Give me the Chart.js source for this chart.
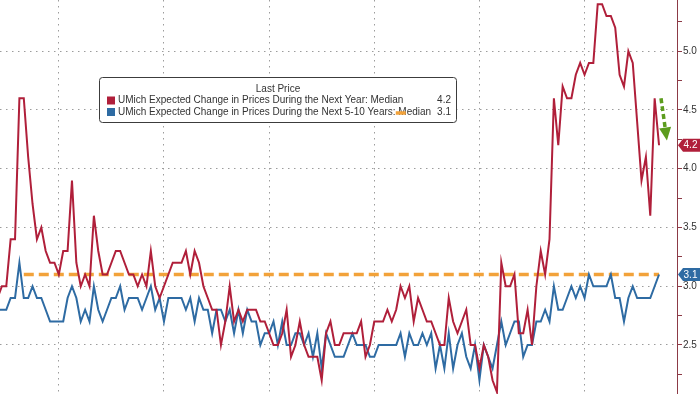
<!DOCTYPE html>
<html>
<head>
<meta charset="utf-8">
<script src="https://cdn.jsdelivr.net/npm/chart.js@4.4.0/dist/chart.umd.min.js"></script>
<style>
  html, body { margin: 0; padding: 0; background: #ffffff; }
  #wrap { width: 700px; height: 394px; }
</style>
</head>
<body>
<div id="wrap"><canvas id="inflationChart" width="700" height="394"></canvas></div>
<script>
// monthly readings, Oct 2010 .. May 2023
const startYear = 2010;
const startMonth = 10;

const nextYearMedian = [
  2.9, 3.0, 3.0, 3.4, 3.4, 4.6, 4.6, 4.1, 3.7, 3.4,
  3.5, 3.3, 3.2, 3.2, 3.1, 3.3, 3.3, 3.9, 3.2, 3.0,
  3.1, 3.0, 3.6, 3.3, 3.1, 3.1, 3.2, 3.3, 3.3, 3.2,
  3.1, 3.1, 3.0, 3.1, 3.0, 3.3, 3.0, 2.9, 3.0, 3.1,
  3.2, 3.2, 3.2, 3.3, 3.1, 3.3, 3.2, 3.0, 2.9, 2.8,
  2.8, 2.5, 2.7, 3.0, 2.7, 2.8, 2.7, 2.8, 2.8, 2.8,
  2.7, 2.7, 2.6, 2.5, 2.5, 2.6, 2.8, 2.4, 2.5, 2.7,
  2.5, 2.4, 2.4, 2.4, 2.2, 2.6, 2.7, 2.5, 2.5, 2.6,
  2.6, 2.6, 2.6, 2.7, 2.4, 2.5, 2.7, 2.7, 2.7, 2.8,
  2.7, 2.8, 3.0, 2.9, 3.0, 2.7, 2.9, 2.8, 2.7, 2.7,
  2.6, 2.5, 2.5, 2.9, 2.7, 2.6, 2.7, 2.8, 2.5, 2.5,
  2.3, 2.5, 2.4, 2.2, 2.1, 3.2, 3.0, 3.0, 3.1, 2.6,
  2.6, 2.8, 2.5, 3.0, 3.3, 3.1, 3.4, 4.6, 4.2, 4.7,
  4.6, 4.6, 4.8, 4.9, 4.8, 4.9, 4.9, 5.4, 5.4, 5.3,
  5.3, 5.2, 4.8, 4.7, 5.0, 4.9, 4.4, 3.9, 4.1, 3.6,
  4.6, 4.2,
];

const fiveToTenYearMedian = [
  2.8, 2.8, 2.8, 2.9, 2.9, 3.2, 2.9, 2.9, 3.0, 2.9,
  2.9, 2.8, 2.7, 2.7, 2.7, 2.7, 2.9, 3.0, 2.9, 2.7,
  2.8, 2.7, 3.0, 2.8, 2.7, 2.8, 2.9, 2.9, 3.0, 2.8,
  2.9, 2.9, 2.9, 2.8, 2.9, 3.0, 2.8, 2.9, 2.7, 2.9,
  2.9, 2.9, 2.9, 2.8, 2.9, 2.7, 2.9, 2.8, 2.8, 2.6,
  2.8, 2.8, 2.7, 2.8, 2.6, 2.8, 2.6, 2.8, 2.7, 2.7,
  2.5, 2.6, 2.6, 2.7, 2.5, 2.7, 2.5, 2.5, 2.6, 2.6,
  2.5, 2.6, 2.4, 2.6, 2.3, 2.6, 2.5, 2.4, 2.4, 2.4,
  2.5, 2.6, 2.5, 2.5, 2.5, 2.4, 2.4, 2.5, 2.5, 2.5,
  2.5, 2.5, 2.6, 2.4, 2.6, 2.5, 2.5, 2.6, 2.5, 2.6,
  2.3, 2.5, 2.3, 2.6, 2.3, 2.5, 2.6, 2.4, 2.3, 2.5,
  2.2, 2.5, 2.4, 2.3, 2.5, 2.7, 2.5, 2.6, 2.7, 2.7,
  2.4, 2.5, 2.5, 2.7, 2.7, 2.8, 2.7, 3.0, 2.8, 2.8,
  2.9, 3.0, 2.9, 3.0, 2.9, 3.1, 3.0, 3.0, 3.0, 3.0,
  3.1, 2.9, 2.9, 2.7, 2.9, 3.0, 2.9, 2.9, 2.9, 2.9,
  3.0, 3.1,
];

const medianLevel = 3.1;
const medianStartIndex = 6;

const yTickValues = [2.25, 2.5, 2.75, 3.0, 3.25, 3.5, 3.75, 4.0, 4.25, 4.5, 4.75, 5.0, 5.25];
const gridYears = [2012, 2014, 2016, 2018, 2020, 2022];

const legendTitle = "Last Price";
const seriesNames = [
  "UMich Expected Change in Prices During the Next Year: Median",
  "UMich Expected Change in Prices During the Next 5-10 Years: Median",
];

const RED = "#b01f3a";
const BLUE = "#2e6ba3";
const ORANGE = "#f2a23a";
const GREEN = "#5c9c1e";
const AXIS = "#8c3a46";
const GRID = "#9c9c9c";
const FONT = "'Liberation Sans', Arial, sans-serif";

const lastIndex = nextYearMedian.length - 1;

function toPoints(values) {
  return values.map((v, i) => ({ x: i, y: v }));
}

function medianPoints() {
  return nextYearMedian.map((v, i) => ({
    x: i,
    y: i >= medianStartIndex ? medianLevel : null,
  }));
}

function yearStartIndex(year) {
  // end of December of the previous year
  return (year - 1 - startYear) * 12 + (12 - startMonth);
}

function isHalf(value) {
  return Math.abs(value * 2 - Math.round(value * 2)) < 1e-6;
}

function drawLegendBox(ctx) {
  ctx.save();

  ctx.beginPath();
  ctx.roundRect(99.5, 77.5, 357, 45, 3);
  ctx.fillStyle = "#ffffff";
  ctx.fill();
  ctx.strokeStyle = "#3c3c3c";
  ctx.lineWidth = 1;
  ctx.stroke();

  ctx.font = "10px " + FONT;
  ctx.fillStyle = "#333333";
  ctx.textBaseline = "middle";

  ctx.textAlign = "center";
  ctx.fillText(legendTitle, 278, 89);

  const rows = [
    { color: RED, name: seriesNames[0], value: nextYearMedian[lastIndex], y: 100.5 },
    { color: BLUE, name: seriesNames[1], value: fiveToTenYearMedian[lastIndex], y: 112 },
  ];

  rows.forEach((row) => {
    ctx.fillStyle = row.color;
    ctx.fillRect(107, row.y - 4, 8, 8);

    ctx.fillStyle = "#333333";
    ctx.textAlign = "left";
    ctx.fillText(row.name, 118, row.y);

    ctx.textAlign = "right";
    ctx.fillText(row.value.toFixed(1), 451, row.y);
  });

  // the median line's marker lands on top of the second row
  const prefix = seriesNames[1].split(":")[0];
  const markerX = 118 + ctx.measureText(prefix).width + 3;
  ctx.strokeStyle = ORANGE;
  ctx.lineWidth = 3.5;
  ctx.beginPath();
  ctx.moveTo(markerX, 113);
  ctx.lineTo(markerX + 10, 113);
  ctx.stroke();

  ctx.restore();
}

function drawTag(ctx, chart, value, color) {
  const y = chart.scales.y.getPixelForValue(value);
  const left = chart.chartArea.right;
  const right = chart.width;

  ctx.save();
  ctx.fillStyle = color;
  ctx.beginPath();
  ctx.moveTo(left + 1, y);
  ctx.lineTo(left + 6, y - 6.5);
  ctx.lineTo(right, y - 6.5);
  ctx.lineTo(right, y + 6.5);
  ctx.lineTo(left + 6, y + 6.5);
  ctx.closePath();
  ctx.fill();

  ctx.fillStyle = "#ffffff";
  ctx.font = "10px " + FONT;
  ctx.textAlign = "center";
  ctx.textBaseline = "middle";
  ctx.fillText(value.toFixed(1), (left + right) / 2 + 2, y + 0.5);
  ctx.restore();
}

function drawArrow(ctx, chart) {
  const xScale = chart.scales.x;
  const yScale = chart.scales.y;

  const x1 = xScale.getPixelForValue(lastIndex + 0.45);
  const y1 = yScale.getPixelForValue(nextYearMedian[lastIndex - 1]);
  const x2 = xScale.getPixelForValue(lastIndex + 1.8);
  const y2 = yScale.getPixelForValue(nextYearMedian[lastIndex] + 0.04);

  const len = Math.hypot(x2 - x1, y2 - y1);
  const ux = (x2 - x1) / len;
  const uy = (y2 - y1) / len;
  const headLength = 13;
  const headHalf = 6;
  const bx = x2 - ux * headLength;
  const by = y2 - uy * headLength;

  ctx.save();
  ctx.strokeStyle = GREEN;
  ctx.fillStyle = GREEN;
  ctx.lineWidth = 3.5;
  ctx.setLineDash([5, 3]);
  ctx.beginPath();
  ctx.moveTo(x1, y1);
  ctx.lineTo(bx, by);
  ctx.stroke();

  ctx.setLineDash([]);
  ctx.beginPath();
  ctx.moveTo(x2, y2);
  ctx.lineTo(bx - uy * headHalf, by + ux * headHalf);
  ctx.lineTo(bx + uy * headHalf, by - ux * headHalf);
  ctx.closePath();
  ctx.fill();
  ctx.restore();
}

const overlayPlugin = {
  id: "overlay",
  afterDraw(chart) {
    const ctx = chart.ctx;

    drawLegendBox(ctx);

    drawTag(ctx, chart, nextYearMedian[lastIndex], RED);

    drawTag(ctx, chart, fiveToTenYearMedian[lastIndex], BLUE);

    drawArrow(ctx, chart);
  },
};

const canvas = document.getElementById("inflationChart");

new Chart(canvas, {
  type: "line",
  data: {
    datasets: [
      {
        label: seriesNames[0],
        data: toPoints(nextYearMedian),
        borderColor: RED,
        borderWidth: 2,
        pointRadius: 0,
        tension: 0,
      },
      {
        label: seriesNames[1],
        data: toPoints(fiveToTenYearMedian),
        borderColor: BLUE,
        borderWidth: 2,
        pointRadius: 0,
        tension: 0,
      },
      {
        label: "Median",
        data: medianPoints(),
        borderColor: ORANGE,
        borderWidth: 3.5,
        borderDash: [10, 5],
        borderCapStyle: "butt",
        pointRadius: 0,
        spanGaps: false,
      },
    ],
  },
  options: {
    responsive: false,
    animation: false,
    events: [],
    layout: { padding: 0 },
    scales: {
      x: {
        type: "linear",
        min: 0.571,
        max: lastIndex + 4.1,
        afterBuildTicks: (scale) => {
          scale.ticks = gridYears.map((year) => ({ value: yearStartIndex(year) }));
        },
        afterFit: (scale) => {
          scale.height = 0;
          scale.paddingLeft = 0;
          scale.paddingRight = 0;
        },
        ticks: { display: false },
        grid: {
          color: GRID,
          lineWidth: 1,
          drawTicks: false,
        },
        border: { display: false, dash: [1.5, 4.5] },
      },
      y: {
        type: "linear",
        position: "right",
        min: 2.083,
        max: 5.436,
        afterBuildTicks: (scale) => {
          scale.ticks = yTickValues.map((value) => ({ value: value }));
        },
        afterFit: (scale) => {
          scale.width = 23;
          scale.paddingTop = 0;
          scale.paddingBottom = 0;
        },
        ticks: {
          autoSkip: false,
          padding: 1,
          color: "#333333",
          font: { family: "Liberation Sans", size: 10 },
          callback: (value) => (isHalf(value) ? Number(value).toFixed(1) : ""),
        },
        grid: {
          color: (context) =>
            context.tick && isHalf(context.tick.value) ? GRID : "rgba(0,0,0,0)",
          lineWidth: 1,
          tickLength: 5,
          tickColor: AXIS,
          tickWidth: 1,
        },
        border: { display: true, color: AXIS, width: 1, dash: [1.5, 4.5] },
      },
    },
    plugins: {
      legend: { display: false },
      tooltip: { enabled: false },
    },
  },
  plugins: [overlayPlugin],
});
</script>
</body>
</html>
